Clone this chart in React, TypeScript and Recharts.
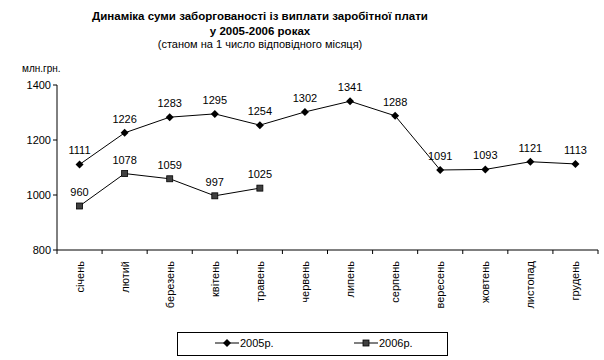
import React from "react";
import { LineChart, Line, XAxis, YAxis, LabelList } from "recharts";

// months shown on the category axis
const months = [
  "січень",
  "лютий",
  "березень",
  "квітень",
  "травень",
  "червень",
  "липень",
  "серпень",
  "вересень",
  "жовтень",
  "листопад",
  "грудень",
];

const debt2005 = [1111, 1226, 1283, 1295, 1254, 1302, 1341, 1288, 1091, 1093, 1121, 1113];
const debt2006 = [960, 1078, 1059, 997, 1025];

const yTicks = [800, 1000, 1200, 1400];

const data = months.map((m, i) => ({
  month: m,
  y2005: debt2005[i],
  y2006: i < debt2006.length ? debt2006[i] : null,
}));

const FONT = "'Liberation Sans', Arial, sans-serif";
const W = 604;
const H = 360;
const AXIS_W = 57;
const AXIS_H = 110;
const MARGIN = { top: 85, right: 6, bottom: 0, left: 0 };
const BAND = (W - AXIS_W - MARGIN.right) / months.length;

function Diamond(props: any) {
  const { cx, cy } = props;
  if (cx == null || cy == null) return null;
  const r = 4;
  return (
    <polygon
      points={`${cx},${cy - r} ${cx + r},${cy} ${cx},${cy + r} ${cx - r},${cy}`}
      fill="#000"
    />
  );
}

function Square(props: any) {
  const { cx, cy } = props;
  if (cx == null || cy == null) return null;
  return <rect x={cx - 3} y={cy - 3} width={6} height={6} fill="#404040" stroke="#000" strokeWidth={0.8} />;
}

function MonthTick(props: any) {
  const { x, y, payload, index } = props;
  const left = x - BAND / 2;
  return (
    <g>
      <line x1={left} y1={y - 8} x2={left} y2={y - 4} stroke="#000" />
      {index === months.length - 1 && (
        <line x1={left + BAND} y1={y - 8} x2={left + BAND} y2={y - 4} stroke="#000" />
      )}
      <text
        x={x}
        y={y + 3}
        transform={`rotate(-90 ${x} ${y + 3})`}
        textAnchor="end"
        dominantBaseline="central"
        fontSize={11}
        fontFamily={FONT}
        fill="#000"
      >
        {payload.value}
      </text>
    </g>
  );
}

function LegendBox() {
  return (
    <div
      style={{
        position: "absolute",
        left: 177,
        top: 332,
        width: 271,
        height: 24,
        border: "1px solid #000",
        boxSizing: "border-box",
        fontFamily: FONT,
        fontSize: 11,
      }}
    >
      <div style={{ position: "absolute", left: 37, top: 4, display: "flex", alignItems: "center" }}>
        <svg width={24} height={12}>
          <line x1={0} y1={6} x2={24} y2={6} stroke="#000" />
          <polygon points="12,2 16,6 12,10 8,6" fill="#000" />
        </svg>
        <span style={{ marginLeft: 1 }}>2005р.</span>
      </div>
      <div style={{ position: "absolute", left: 176, top: 4, display: "flex", alignItems: "center" }}>
        <svg width={24} height={12}>
          <line x1={0} y1={6} x2={24} y2={6} stroke="#000" />
          <rect x={9} y={3} width={6} height={6} fill="#404040" stroke="#000" strokeWidth={0.8} />
        </svg>
        <span style={{ marginLeft: 1 }}>2006р.</span>
      </div>
    </div>
  );
}

export default function App() {
  return (
    <div
      style={{
        position: "absolute",
        left: 0,
        top: 0,
        width: W,
        height: H,
        background: "#fff",
        fontFamily: FONT,
        color: "#000",
      }}
    >
      <div
        style={{
          position: "absolute",
          left: 0,
          width: 520,
          top: 9,
          textAlign: "center",
          fontWeight: "bold",
          fontSize: 11.5,
          lineHeight: "15px",
          fontFamily: FONT,
        }}
      >
        Динаміка суми заборгованості із виплати заробітної плати
        <br />у 2005-2006 роках
      </div>
      <div
        style={{
          position: "absolute",
          left: 0,
          width: 520,
          top: 38,
          textAlign: "center",
          fontSize: 11,
        }}
      >
        (станом на 1 число відповідного місяця)
      </div>
      <div style={{ position: "absolute", left: 22, top: 63, fontSize: 10 }}>млн.грн.</div>
      <LineChart width={W} height={H} data={data} margin={MARGIN}>
        <XAxis
          dataKey="month"
          interval={0}
          tickLine={false}
          axisLine={{ stroke: "#000" }}
          tick={<MonthTick />}
          height={AXIS_H}
          padding={{ left: BAND / 2, right: BAND / 2 }}
        />
        <YAxis
          domain={[800, 1400]}
          ticks={yTicks}
          width={AXIS_W}
          axisLine={{ stroke: "#000" }}
          tickLine={{ stroke: "#000" }}
          tickSize={4}
          tick={{ fill: "#000", fontSize: 11, fontFamily: FONT }}
        />
        <Line
          dataKey="y2005"
          stroke="#000"
          strokeWidth={1}
          dot={<Diamond />}
          isAnimationActive={false}
        >
          <LabelList dataKey="y2005" position="top" offset={10} fontSize={11} fontFamily={FONT} fill="#000" />
        </Line>
        <Line
          dataKey="y2006"
          stroke="#000"
          strokeWidth={1}
          dot={<Square />}
          connectNulls={false}
          isAnimationActive={false}
        >
          <LabelList dataKey="y2006" position="top" offset={10} fontSize={11} fontFamily={FONT} fill="#000" />
        </Line>
      </LineChart>
      <LegendBox />
    </div>
  );
}
